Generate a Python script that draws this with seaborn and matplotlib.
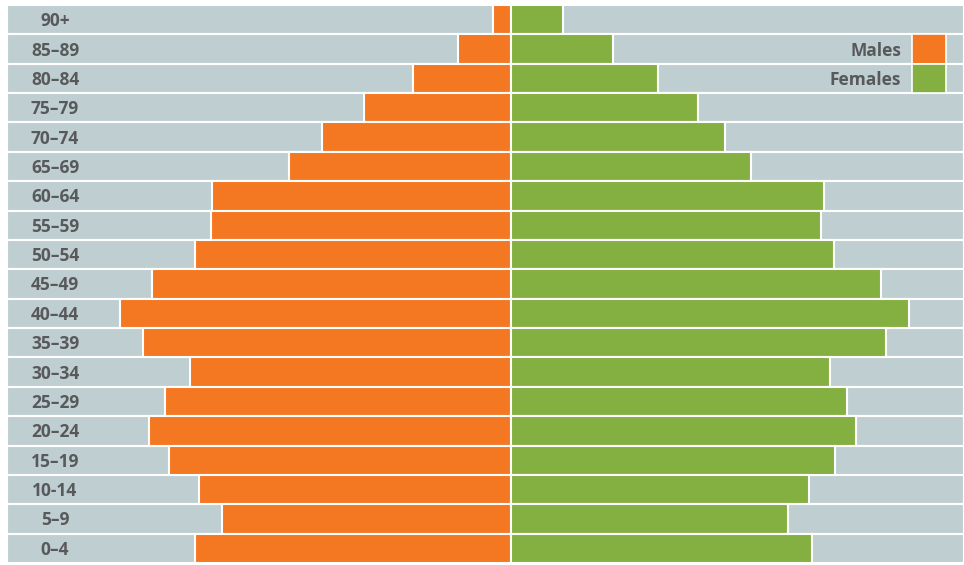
import matplotlib
matplotlib.use("Agg")
import matplotlib.pyplot as plt
import seaborn as sns
import pandas as pd
from matplotlib.patches import Rectangle

ages = ["90+", "85–89", "80–84", "75–79", "70–74", "65–69", "60–64", "55–59",
        "50–54", "45–49", "40–44", "35–39", "30–34", "25–29", "20–24",
        "15–19", "10-14", "5–9", "0–4"]
males = [18, 53, 98, 147, 189, 222, 299, 300, 316, 359, 391, 368, 321, 346,
         362, 342, 312, 289, 316]
females = [52, 102, 147, 187, 214, 240, 313, 310, 323, 370, 398, 375, 319,
           336, 345, 324, 298, 277, 301]
legend_labels = ["Males", "Females"]

ORANGE = "#F47721"
GREEN = "#84B041"
GREY_BG = "#BFCED1"
TEXT = "#58595B"
XMIN, XMAX = -504, 453

df = pd.DataFrame({"age": ages, "male": [-m for m in males], "female": females,
                   "bgl": [XMIN] * len(ages), "bgr": [XMAX] * len(ages)})

sns.set_style("white")
plt.rcParams["font.family"] = ["Open Sans", "DejaVu Sans"]

fig = plt.figure(figsize=(9.64, 5.65), dpi=100)
ax = fig.add_axes([7 / 964, 2 / 565, 957 / 964, 558 / 565])

kw = dict(y="age", orient="h", width=1.0, edgecolor="white", linewidth=1.5,
          order=ages, ax=ax, saturation=1)
sns.barplot(data=df, x="bgl", color=GREY_BG, **kw)
sns.barplot(data=df, x="bgr", color=GREY_BG, **kw)
sns.barplot(data=df, x="male", color=ORANGE, **kw)
sns.barplot(data=df, x="female", color=GREEN, **kw)

ax.set_xlim(XMIN, XMAX)
ax.set_ylim(len(ages) - 0.5, -0.5)
ax.axis("off")

for i, a in enumerate(ages):
    ax.text(-456, i + 0.05, a, ha="center", va="center", fontsize=12.5,
            fontweight="bold", color=TEXT)

# legend
for j, (lab, col) in enumerate(zip(legend_labels, [ORANGE, GREEN])):
    y = 1 + j
    ax.add_patch(Rectangle((401, y - 0.5), 34, 1.0, facecolor=col,
                           edgecolor="white", linewidth=1.2, zorder=5))
    ax.text(390, y + 0.05, lab, ha="right", va="center", fontsize=12.5,
            fontweight="bold", color=TEXT, zorder=5)

fig.savefig("out.png", dpi=100)
